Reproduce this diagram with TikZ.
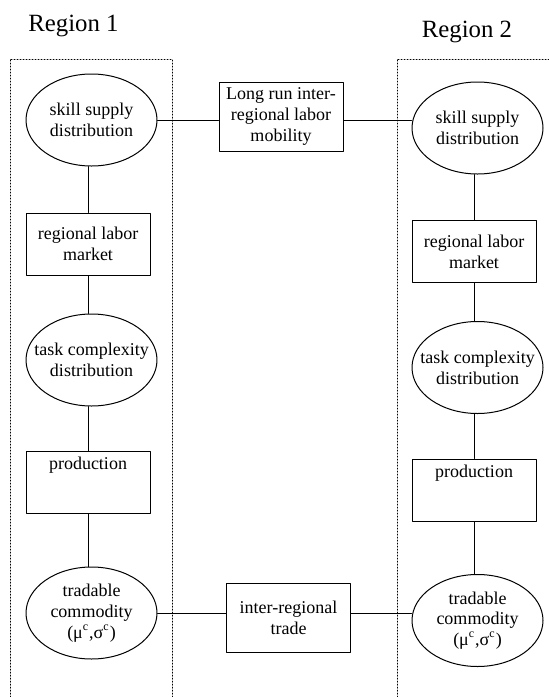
\documentclass[tikz,border=0pt]{standalone}
\usepackage{fontspec}
\setmainfont{Liberation Serif}
\usetikzlibrary{shapes.geometric}

\begin{document}
\begin{tikzpicture}[line cap=round,line join=round,x=0.5pt,y=-0.5pt,
  oval/.style={draw,ellipse,line width=0.5pt,inner xsep=-6pt,inner ysep=0pt,minimum width=65.5pt,minimum height=46pt,align=center,font=\fontsize{9}{10.35}\selectfont},
  sqbox/.style={draw,rectangle,line width=0.5pt,inner sep=0pt,minimum width=62pt,minimum height=31pt,align=center,font=\fontsize{9}{10.35}\selectfont},
  widebox/.style={sqbox,minimum height=34.5pt},
  regframe/.style={densely dotted,line width=0.5pt},
  regtitle/.style={anchor=base,font=\fontsize{12.4}{14}\selectfont}]
\useasboundingbox (0,0) rectangle (549,697);
\node [regtitle] (reg1) at (73.5,31) {Region 1};
\node [regtitle] (reg2) at (467,37) {Region 2};
\draw[regframe] (10,697)--(10,59)--(172,59)--(172,697);
\draw[regframe] (397,697)--(397,59)--(549,59);
% region 1
\node [oval] (ss1) at (91.5,120) {skill supply\\distribution};
\node [sqbox] (rlm1) at (88,244) {regional labor\\market};
\node [oval] (tc1) at (91.5,360) {task complexity\\distribution};
\node [sqbox] (pr1) at (88,482.5) {\parbox[c][25pt][t]{60pt}{\centering production}};
\node [oval] (td1) at (91.5,613) {tradable\\commodity\\(μ\textsuperscript{c},σ\textsuperscript{c})};
% region 2
\node [oval] (ss2) at (477.5,128) {skill supply\\distribution};
\node [sqbox] (rlm2) at (474,251.5) {regional labor\\market};
\node [oval] (tc2) at (477.5,367.5) {task complexity\\distribution};
\node [sqbox] (pr2) at (474,490) {\parbox[c][25pt][t]{60pt}{\centering production}};
\node [oval] (td2) at (477.5,620.5) {tradable\\commodity\\(μ\textsuperscript{c},σ\textsuperscript{c})};
% between the regions
\node [widebox] (mob) at (281,116.5) {Long run inter-\\regional labor\\mobility};
\node [widebox] (trd) at (288.5,617.5) {inter-regional\\trade};
\begin{scope}[line width=0.5pt]
\draw (rlm1)--(rlm1 |- ss1.south);
\draw (rlm1)--(rlm1 |- tc1.north);
\draw (pr1)--(pr1 |- tc1.south);
\draw (pr1)--(pr1 |- td1.north);
\draw (rlm2)--(rlm2 |- ss2.south);
\draw (rlm2)--(rlm2 |- tc2.north);
\draw (pr2)--(pr2 |- tc2.south);
\draw (pr2)--(pr2 |- td2.north);
\draw (ss1.east)--(mob.west |- ss1.east);
\draw (mob.east |- ss1.east)--(ss2.west |- ss1.east);
\draw (td1.east)--(trd.west |- td1.east);
\draw (trd.east |- td1.east)--(td2.west |- td1.east);
\end{scope}
\end{tikzpicture}
\end{document}
